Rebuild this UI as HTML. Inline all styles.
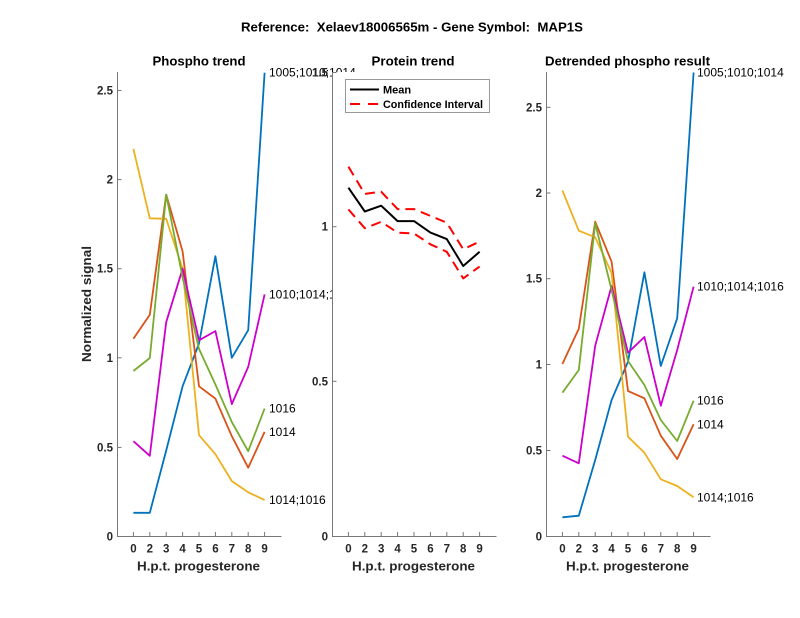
<!DOCTYPE html>
<html>
<head>
<meta charset="utf-8">
<style>
  html, body { margin: 0; padding: 0; background: #fff; }
  svg { display: block; }
  text { font-family: "Liberation Sans", Arial, sans-serif; }
  .tk { font-size: 11.5px; font-weight: bold; fill: #262626; }
  .ttl { font-size: 13px; font-weight: bold; fill: #000; }
  .lab { font-size: 13px; font-weight: bold; fill: #262626; }
  .ann { font-size: 12px; fill: #000; }
  .leg { font-size: 11px; font-weight: bold; fill: #000; }
</style>
</head>
<body>
<svg width="800" height="618" viewBox="0 0 800 618" xmlns="http://www.w3.org/2000/svg">
  <rect x="0" y="0" width="800" height="618" fill="#fff"/>

  <!-- Main title -->
  <text class="ttl" x="412" y="31.5" text-anchor="middle" textLength="342" lengthAdjust="spacingAndGlyphs">Reference:&#160; Xelaev18006565m - Gene Symbol:&#160; MAP1S</text>

  <!-- ============ LEFT PANEL ============ -->
  <text class="ttl" x="199" y="65.5" text-anchor="middle" textLength="93" lengthAdjust="spacingAndGlyphs">Phospho trend</text>
  <g fill="none" stroke-width="1.8" stroke-linejoin="round">
    <polyline stroke="#0072BD" points="133.4,512.8 149.8,512.8 166.2,450.5 182.6,386.3 199,343.5 215.4,256.2 231.8,357.8 248.2,330.2 264.6,72.7"/>
    <polyline stroke="#D95319" points="133.4,338.7 149.8,314.7 166.2,194.6 182.6,251.4 199,386.3 215.4,398.6 231.8,436.2 248.2,467.7 264.6,431.9"/>
    <polyline stroke="#EDB120" points="133.4,148.9 149.8,218.3 166.2,218.8 182.6,268.7 199,435.1 215.4,454.2 231.8,481.1 248.2,492.3 264.6,500.0"/>
    <polyline stroke="#CC00CC" points="133.4,441.2 149.8,455.8 166.2,322.2 182.6,268.7 199,340.3 215.4,331.1 231.8,404.1 248.2,366.9 264.6,294.4"/>
    <polyline stroke="#77AC30" points="133.4,371.0 149.8,358.0 166.2,194.6 182.6,277.6 199,348.9 215.4,384.5 231.8,422.0 248.2,451.2 264.6,408.6"/>
  </g>
  <text class="ann" x="269" y="76.7">1005;1010;1014</text>
  <text class="ann" x="269" y="298.4">1010;1014;1016</text>
  <text class="ann" x="269" y="412.6">1016</text>
  <text class="ann" x="269" y="435.9">1014</text>
  <text class="ann" x="269" y="504">1014;1016</text>

  <!-- left axes -->
  <g stroke="#777" stroke-width="1" fill="none">
    <line x1="117.5" y1="72" x2="117.5" y2="536.5"/>
    <line x1="117" y1="536.5" x2="281.5" y2="536.5"/>
    <line x1="117.5" y1="536.5" x2="121.5" y2="536.5"/>
    <line x1="117.5" y1="447.4" x2="121.5" y2="447.4"/>
    <line x1="117.5" y1="357.8" x2="121.5" y2="357.8"/>
    <line x1="117.5" y1="268.7" x2="121.5" y2="268.7"/>
    <line x1="117.5" y1="179.6" x2="121.5" y2="179.6"/>
    <line x1="117.5" y1="90.5" x2="121.5" y2="90.5"/>
    <line x1="133.4" y1="536.5" x2="133.4" y2="532"/>
    <line x1="149.8" y1="536.5" x2="149.8" y2="532"/>
    <line x1="166.2" y1="536.5" x2="166.2" y2="532"/>
    <line x1="182.6" y1="536.5" x2="182.6" y2="532"/>
    <line x1="199" y1="536.5" x2="199" y2="532"/>
    <line x1="215.4" y1="536.5" x2="215.4" y2="532"/>
    <line x1="231.8" y1="536.5" x2="231.8" y2="532"/>
    <line x1="248.2" y1="536.5" x2="248.2" y2="532"/>
    <line x1="264.6" y1="536.5" x2="264.6" y2="532"/>
  </g>
  <g class="tk" text-anchor="end">
    <text x="113" y="540.5">0</text>
    <text x="113" y="451.4">0.5</text>
    <text x="113" y="361.8">1</text>
    <text x="113" y="272.7">1.5</text>
    <text x="113" y="183.6">2</text>
    <text x="113" y="94.5">2.5</text>
  </g>
  <g class="tk" text-anchor="middle">
    <text x="133.4" y="552.5">0</text>
    <text x="149.8" y="552.5">2</text>
    <text x="166.2" y="552.5">3</text>
    <text x="182.6" y="552.5">4</text>
    <text x="199" y="552.5">5</text>
    <text x="215.4" y="552.5">6</text>
    <text x="231.8" y="552.5">7</text>
    <text x="248.2" y="552.5">8</text>
    <text x="264.6" y="552.5">9</text>
  </g>
  <text class="lab" x="198.5" y="570.5" text-anchor="middle" textLength="123" lengthAdjust="spacingAndGlyphs">H.p.t. progesterone</text>
  <text class="lab" transform="translate(91,304) rotate(-90)" x="0" y="0" text-anchor="middle" textLength="116" lengthAdjust="spacingAndGlyphs">Normalized signal</text>

  <!-- ============ MIDDLE PANEL ============ -->
  <rect x="332" y="72" width="165" height="464.5" fill="#fff"/>
  <text class="ttl" x="413" y="65.5" text-anchor="middle" textLength="83" lengthAdjust="spacingAndGlyphs">Protein trend</text>
  <g fill="none" stroke-width="2" stroke-linejoin="round">
    <polyline stroke="#ff0000" stroke-dasharray="10,6" points="348.4,166.7 364.8,193.9 381.2,191.7 397.6,209.1 414,209.1 430.4,215.9 446.8,222.7 463.2,249.3 479.6,241.6"/>
    <polyline stroke="#ff0000" stroke-dasharray="10,6" points="348.4,209.4 364.8,228.2 381.2,221.8 397.6,232.6 414,233.5 430.4,244.3 446.8,251.8 463.2,278.4 479.6,266.6"/>
    <polyline stroke="#000" points="348.4,187.7 364.8,211.5 381.2,205.7 397.6,221.1 414,221.1 430.4,232.6 446.8,239.1 463.2,266.0 479.6,251.8"/>
  </g>
  <!-- legend -->
  <rect x="345.5" y="79.5" width="144" height="33" fill="#fff" stroke="#999" stroke-width="1"/>
  <line x1="350" y1="89.5" x2="379" y2="89.5" stroke="#000" stroke-width="2"/>
  <text class="leg" x="383" y="93.5">Mean</text>
  <line x1="350" y1="104" x2="379" y2="104" stroke="#ff0000" stroke-width="2" stroke-dasharray="10,8"/>
  <text class="leg" x="383" y="108" textLength="100" lengthAdjust="spacingAndGlyphs">Confidence Interval</text>

  <g stroke="#777" stroke-width="1" fill="none">
    <line x1="332.5" y1="72" x2="332.5" y2="536.5"/>
    <line x1="332" y1="536.5" x2="496.5" y2="536.5"/>
    <line x1="332.5" y1="536.5" x2="336.5" y2="536.5"/>
    <line x1="332.5" y1="381.3" x2="336.5" y2="381.3"/>
    <line x1="332.5" y1="226.7" x2="336.5" y2="226.7"/>
    <line x1="332.5" y1="72.5" x2="336.5" y2="72.5"/>
    <line x1="348.4" y1="536.5" x2="348.4" y2="532"/>
    <line x1="364.8" y1="536.5" x2="364.8" y2="532"/>
    <line x1="381.2" y1="536.5" x2="381.2" y2="532"/>
    <line x1="397.6" y1="536.5" x2="397.6" y2="532"/>
    <line x1="414" y1="536.5" x2="414" y2="532"/>
    <line x1="430.4" y1="536.5" x2="430.4" y2="532"/>
    <line x1="446.8" y1="536.5" x2="446.8" y2="532"/>
    <line x1="463.2" y1="536.5" x2="463.2" y2="532"/>
    <line x1="479.6" y1="536.5" x2="479.6" y2="532"/>
  </g>
  <g class="tk" text-anchor="end">
    <text x="328" y="540.5">0</text>
    <text x="328" y="385.3">0.5</text>
    <text x="328" y="230.7">1</text>
    <text x="328" y="76.5">1.5</text>
  </g>
  <g class="tk" text-anchor="middle">
    <text x="348.4" y="552.5">0</text>
    <text x="364.8" y="552.5">2</text>
    <text x="381.2" y="552.5">3</text>
    <text x="397.6" y="552.5">4</text>
    <text x="414" y="552.5">5</text>
    <text x="430.4" y="552.5">6</text>
    <text x="446.8" y="552.5">7</text>
    <text x="463.2" y="552.5">8</text>
    <text x="479.6" y="552.5">9</text>
  </g>
  <text class="lab" x="413.5" y="570.5" text-anchor="middle" textLength="123" lengthAdjust="spacingAndGlyphs">H.p.t. progesterone</text>

  <!-- ============ RIGHT PANEL ============ -->
  <text class="ttl" x="627.5" y="65.5" text-anchor="middle" textLength="165" lengthAdjust="spacingAndGlyphs">Detrended phospho result</text>
  <g fill="none" stroke-width="1.8" stroke-linejoin="round">
    <polyline stroke="#0072BD" points="562.4,517.3 578.8,515.7 595.2,460 611.6,400 628,361.7 644.4,272.3 660.8,366 677.2,318.3 693.6,72.5"/>
    <polyline stroke="#D95319" points="562.4,364 578.8,328.7 595.2,221.7 611.6,261.7 628,391 644.4,398.3 660.8,435.7 677.2,459 693.6,424.3"/>
    <polyline stroke="#EDB120" points="562.4,190.5 578.8,230.7 595.2,237.3 611.6,273 628,436.7 644.4,452.7 660.8,479.3 677.2,486 693.6,497.3"/>
    <polyline stroke="#CC00CC" points="562.4,455.7 578.8,463.3 595.2,345.7 611.6,286 628,352.7 644.4,337 660.8,405.7 677.2,350 693.6,286.7"/>
    <polyline stroke="#77AC30" points="562.4,392.7 578.8,370 595.2,223.3 611.6,290 628,361 644.4,385 660.8,420 677.2,441 693.6,400.7"/>
  </g>
  <text class="ann" x="697" y="76.5">1005;1010;1014</text>
  <text class="ann" x="697" y="290.7">1010;1014;1016</text>
  <text class="ann" x="697" y="404.7">1016</text>
  <text class="ann" x="697" y="428.3">1014</text>
  <text class="ann" x="697" y="501.3">1014;1016</text>

  <g stroke="#777" stroke-width="1" fill="none">
    <line x1="546.5" y1="72" x2="546.5" y2="536.5"/>
    <line x1="546" y1="536.5" x2="710.5" y2="536.5"/>
    <line x1="546.5" y1="536.5" x2="550.5" y2="536.5"/>
    <line x1="546.5" y1="450.5" x2="550.5" y2="450.5"/>
    <line x1="546.5" y1="364.5" x2="550.5" y2="364.5"/>
    <line x1="546.5" y1="278.7" x2="550.5" y2="278.7"/>
    <line x1="546.5" y1="193" x2="550.5" y2="193"/>
    <line x1="546.5" y1="107.3" x2="550.5" y2="107.3"/>
    <line x1="562.4" y1="536.5" x2="562.4" y2="532"/>
    <line x1="578.8" y1="536.5" x2="578.8" y2="532"/>
    <line x1="595.2" y1="536.5" x2="595.2" y2="532"/>
    <line x1="611.6" y1="536.5" x2="611.6" y2="532"/>
    <line x1="628" y1="536.5" x2="628" y2="532"/>
    <line x1="644.4" y1="536.5" x2="644.4" y2="532"/>
    <line x1="660.8" y1="536.5" x2="660.8" y2="532"/>
    <line x1="677.2" y1="536.5" x2="677.2" y2="532"/>
    <line x1="693.6" y1="536.5" x2="693.6" y2="532"/>
  </g>
  <g class="tk" text-anchor="end">
    <text x="542" y="540.5">0</text>
    <text x="542" y="454.5">0.5</text>
    <text x="542" y="368.5">1</text>
    <text x="542" y="282.7">1.5</text>
    <text x="542" y="197">2</text>
    <text x="542" y="111.3">2.5</text>
  </g>
  <g class="tk" text-anchor="middle">
    <text x="562.4" y="552.5">0</text>
    <text x="578.8" y="552.5">2</text>
    <text x="595.2" y="552.5">3</text>
    <text x="611.6" y="552.5">4</text>
    <text x="628" y="552.5">5</text>
    <text x="644.4" y="552.5">6</text>
    <text x="660.8" y="552.5">7</text>
    <text x="677.2" y="552.5">8</text>
    <text x="693.6" y="552.5">9</text>
  </g>
  <text class="lab" x="627.5" y="570.5" text-anchor="middle" textLength="123" lengthAdjust="spacingAndGlyphs">H.p.t. progesterone</text>
</svg>
</body>
</html>
